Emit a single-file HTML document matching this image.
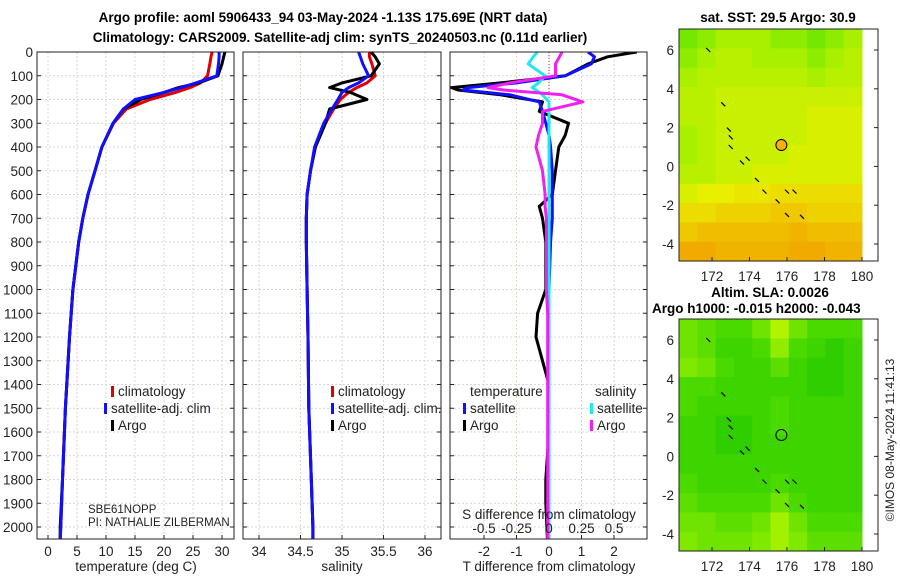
<!DOCTYPE html>
<html><head><meta charset="utf-8"><style>
body{margin:0;background:#fff}
svg{display:block;font-family:"Liberation Sans",sans-serif}
</style></head><body>
<svg id="c" width="900" height="580" xmlns="http://www.w3.org/2000/svg">
<text x="323" y="22" text-anchor="middle" font-size="13.5" font-weight="bold">Argo profile: aoml 5906433_94 03-May-2024 -1.13S 175.69E (NRT data)</text>
<text x="340" y="42" text-anchor="middle" font-size="13.5" font-weight="bold">Climatology: CARS2009. Satellite-adj clim: synTS_20240503.nc (0.11d earlier)</text>
<text x="778" y="22" text-anchor="middle" font-size="13.5" font-weight="bold">sat. SST: 29.5 Argo: 30.9</text>
<text x="770" y="297" text-anchor="middle" font-size="13.5" font-weight="bold">Altim. SLA: 0.0026</text>
<text x="652" y="313" font-size="13.5" font-weight="bold">Argo h1000: -0.015 h2000: -0.043</text>
<text transform="translate(894,440) rotate(-90)" text-anchor="middle" font-size="12" fill="#222">©IMOS 08-May-2024 11:41:13</text>
<g id="g"></g>
</svg>
<script>
// ---- profile data ----
const depths = [0,20,50,100,130,150,170,200,240,300,400,500,600,700,800,1000,1200,1500,1800,2000,2050];
const tempArgo = [30.5,30.3,30.0,29.3,26,22.5,20,16,13,11.2,9.3,8.1,6.9,6.0,5.3,4.3,3.7,3.0,2.5,2.1,2.1];
const tempClim = [28.3,28.1,27.9,27.5,26.3,24.5,22,17.6,13.5,11.3,9.3,8.1,6.9,6.0,5.3,4.3,3.7,3.0,2.5,2.2,2.1];
const tempSat  = [29.5,29.5,29.4,29.1,25.5,23,20,15,13,11.2,9.3,8.1,6.9,6.0,5.3,4.3,3.7,3.0,2.5,2.2,2.1];
const salArgo = [35.35,35.4,35.45,35.35,35.0,34.85,35.1,35.3,34.85,34.8,34.68,34.62,34.58,34.57,34.57,34.58,34.59,34.6,34.63,34.65,34.65];
const salClim = [35.33,35.33,35.36,35.4,35.3,35.18,35.08,34.98,34.9,34.8,34.68,34.62,34.58,34.57,34.57,34.58,34.59,34.6,34.63,34.65,34.65];
const salSat  = [35.2,35.22,35.25,35.32,35.2,35.08,35.0,34.95,34.88,34.78,34.67,34.62,34.58,34.57,34.57,34.58,34.59,34.6,34.63,34.65,34.65];
const diffDepths = [0,20,50,100,130,150,160,180,210,250,300,350,400,500,600,650,700,800,1000,1100,1200,1300,1400,1600,1800,1900,2050];
const tDiffArgo = [2.7,1.8,1.2,0.5,-1.5,-3.0,-2.8,-1.5,-0.2,-0.3,0.6,0.5,0.3,0.2,0.1,-0.3,-0.2,-0.1,-0.1,-0.35,-0.4,-0.2,0.0,0.0,-0.1,-0.1,-0.05];
const tDiffSat  = [1.2,1.4,1.3,0.5,-1.0,-2.5,-2.65,-1.2,-0.3,-0.2,-0.1,0.0,0.05,0.1,0.1,0.1,0.1,0.05,0.0,0.0,0.0,0.0,0.0,0.0,0.0,0.0,0.0];
const sDiffArgo = [0.1,0.08,0.05,0.05,-0.3,-0.47,-0.35,0.1,0.26,-0.05,-0.05,-0.08,-0.1,-0.05,-0.03,-0.03,-0.02,-0.02,-0.02,-0.01,-0.01,-0.01,-0.01,-0.01,-0.01,-0.01,-0.01];
const sDiffSat  = [-0.09,-0.12,-0.16,-0.03,-0.08,-0.13,-0.1,-0.05,0.0,0.0,0.0,0.0,0.0,0.0,0.0,0.0,0.0,0.0,0.0,0.0,0.0,0.0,0.0,0.0,0.0,0.0,0.0];
const depthTicks = [0,100,200,300,400,500,600,700,800,900,1000,1100,1200,1300,1400,1500,1600,1700,1800,1900,2000];
const tempTicks = [0,5,10,15,20,25,30];
const salTicks = [34,34.5,35,35.5,36];
const salTickLabels = ["34","34.5","35","35.5","36"];
const tDiffTicks = [-2,-1,0,1,2];
const sDiffTicks = [-0.5,-0.25,0,0.25,0.5];
const sDiffTickLabels = ["-0.5","-0.25","0","0.25","0.5"];
// ---- map data ----
const lonTicks = [172,174,176,178,180];
const latTicks = [6,4,2,0,-2,-4];
const argoLon = 175.7, argoLat = 1.1;
const sstGrid = [
[29.2,29.3,29.4,29.4,29.4,29.3,29.3,29.2,29.3,29.4],
[29.3,29.4,29.5,29.5,29.4,29.4,29.4,29.3,29.4,29.5],
[29.4,29.5,29.5,29.5,29.5,29.5,29.5,29.4,29.5,29.5],
[29.5,29.5,29.6,29.6,29.6,29.6,29.6,29.6,29.6,29.6],
[29.5,29.5,29.6,29.6,29.6,29.6,29.6,29.7,29.7,29.7],
[29.4,29.5,29.6,29.6,29.6,29.6,29.6,29.7,29.7,29.7],
[29.4,29.5,29.6,29.6,29.6,29.6,29.7,29.7,29.7,29.7],
[29.5,29.5,29.6,29.6,29.7,29.7,29.7,29.7,29.7,29.7],
[29.7,29.8,29.8,29.9,29.9,30.0,30.0,30.0,30.0,30.0],
[30.0,30.0,30.1,30.1,30.1,30.2,30.2,30.1,30.1,30.1],
[30.2,30.3,30.3,30.3,30.3,30.3,30.4,30.3,30.3,30.3],
[30.5,30.5,30.4,30.4,30.4,30.4,30.5,30.5,30.4,30.4]];
const slaGrid = [
[.5,.4,.3,.3,.5,.9,.5,.3,.3,.3],
[.5,.4,.2,.2,.3,.7,.3,.2,.1,.2],
[.6,.5,.3,.2,.2,.4,.2,.1,.1,.2],
[.3,.3,.2,.2,.2,.2,.2,.1,.1,.2],
[.3,.2,.2,.2,.2,.3,.2,.2,.2,.2],
[.2,.2,.1,.1,.2,.3,.2,.2,.2,.2],
[.2,.2,.1,.1,.2,.2,.2,.2,.2,.2],
[.2,.2,.2,.2,.2,.2,.2,.2,.2,.2],
[.3,.2,.2,.2,.2,.3,.2,.2,.2,.2],
[.4,.3,.3,.3,.3,.5,.3,.2,.2,.2],
[.5,.5,.4,.4,.5,.8,.5,.3,.3,.3],
[.6,.5,.5,.5,.6,.8,.6,.4,.4,.4]];
const coastLon = [172.6,172.9,173.0,173.0,173.6,173.9,174.4,174.8,175.5,176.0,176.4,176.0,176.8,171.8];
const coastLat = [3.2,1.9,1.5,1.0,0.2,0.4,-0.7,-1.3,-1.8,-1.3,-1.3,-2.5,-2.6,6.0];

const NS="http://www.w3.org/2000/svg";
const G=document.getElementById('g');
function el(t,a,p){const e=document.createElementNS(NS,t);for(const k in a)e.setAttribute(k,a[k]);(p||G).appendChild(e);return e;}
function txt(x,y,s,a,p){const e=el('text',Object.assign({x:x,y:y,'font-size':13.5,fill:'#222'},a||{}),p);e.textContent=s;return e;}

const yD = d => 52 + d*0.2375;
const PY0=52, PY1=539;
const TICKY=556, TITLEY=571;
const xT = v => 48 + v*5.8;
const xS = v => 259 + (v-34)*83;
const xTd = v => 549 + v*32.5;
const xSd = v => 549 + v*130;

function panel(name,x0,x1){
  const g=el('g',{});
  
  
  for(const d of depthTicks){
    const l=el('line',{x1:x0,x2:x1,y1:yD(d),y2:yD(d),stroke:'#c8c8e0','stroke-width':0.8,'stroke-dasharray':'2,2'},g);
    
    
    const t1=el('line',{x1:x0,x2:x0+4,y1:yD(d),y2:yD(d),stroke:'#222'},g);
    
    
    const t2=el('line',{x1:x1-4,x2:x1,y1:yD(d),y2:yD(d),stroke:'#222'},g);
    
    
  }
  return g;
}
function vgrid(g,xs,fn){
  for(const v of xs){
    const l=el('line',{x1:fn(v),x2:fn(v),y1:PY0,y2:PY1,stroke:'#e0c8b0','stroke-width':0.8,'stroke-dasharray':'2,2'},g);
    
    
    const t=el('line',{x1:fn(v),x2:fn(v),y1:PY1,y2:PY1-4,stroke:'#222'},g);
    
    
  }
}
function frame(g,x0,x1){
  const r=el('rect',{x:x0,y:PY0,width:x1-x0,height:PY1-PY0,fill:'none',stroke:'#222','stroke-width':1},g);
  
  
}
function line(g,xs,ds,fx,color,name,w){
  const pts=xs.map((v,i)=>fx(v).toFixed(1)+','+yD(ds[i]).toFixed(1)).join(' ');
  const p=el('polyline',{points:pts,fill:'none',stroke:color,'stroke-width':w||3,'stroke-linejoin':'round'},g);
  
  
}
function legendEntry(g,x,y,color,label,name){
  const m=el('rect',{x:x,y:y-10,width:3,height:11,fill:color},g);
  
  
  const t=txt(x+7,y,label,{},g);
  
  
}

// Panel 1: temperature
const p1=panel('temperature-panel',37,234);
vgrid(p1,tempTicks,xT);
line(p1,tempClim,depths,xT,'#e00000','temperature-climatology-line');
line(p1,tempArgo,depths,xT,'#000','temperature-argo-line');
line(p1,tempSat,depths,xT,'#1010ff','temperature-satellite-line');
frame(p1,37,234);
for(const d of depthTicks){const t=txt(33,yD(d)+5,String(d),{'text-anchor':'end'},p1);}
for(const v of tempTicks){const t=txt(xT(v),TICKY,String(v),{'text-anchor':'middle'},p1);}
{const t=txt(136,TITLEY,'temperature (deg C)',{'text-anchor':'middle'},p1);}
legendEntry(p1,111,396,'#e00000','climatology','legend-climatology');
legendEntry(p1,104,413,'#1010ff','satellite-adj. clim','legend-satellite');
legendEntry(p1,111,430,'#000','Argo','legend-argo');
{const t=txt(88,513,'SBE61NOPP',{'font-size':11.5},p1);}
{const t=txt(88,526,'PI: NATHALIE ZILBERMAN',{'font-size':11.5},p1);}

// Panel 2: salinity
const p2=panel('salinity-panel',243,441);
vgrid(p2,salTicks,xS);
line(p2,salClim,depths,xS,'#e00000','salinity-climatology-line');
line(p2,salArgo,depths,xS,'#000','salinity-argo-line');
line(p2,salSat,depths,xS,'#1010ff','salinity-satellite-line');
frame(p2,243,441);
salTicks.forEach((v,i)=>{const t=txt(xS(v),TICKY,salTickLabels[i],{'text-anchor':'middle'},p2);});
{const t=txt(342,TITLEY,'salinity',{'text-anchor':'middle'},p2);}
legendEntry(p2,331,396,'#e00000','climatology','legend-climatology');
legendEntry(p2,331,413,'#1010ff','satellite-adj. clim.','legend-satellite');
legendEntry(p2,331,430,'#000','Argo','legend-argo');

// Panel 3: differences
const p3=panel('difference-panel',450,647);
vgrid(p3,tDiffTicks,xTd);
{const z=el('line',{x1:549,x2:549,y1:PY0,y2:PY1,stroke:'#555','stroke-width':1,'stroke-dasharray':'1,2'},p3);}
const clip=el('clipPath',{id:'cp3'},p3);el('rect',{x:450,y:PY0,width:197,height:PY1-PY0},clip);
const p3c=el('g',{'clip-path':'url(#cp3)'},p3);


line(p3c,tDiffArgo,diffDepths,xTd,'#000','t-diff-argo-line');
line(p3c,tDiffSat,diffDepths,xTd,'#1010ff','t-diff-satellite-line');
line(p3c,sDiffSat,diffDepths,xSd,'#20e8f0','s-diff-satellite-line');
line(p3c,sDiffArgo,diffDepths,xSd,'#f020f0','s-diff-argo-line');
frame(p3,450,647);
for(const v of tDiffTicks){const t=txt(xTd(v),TICKY,String(v),{'text-anchor':'middle'},p3);}
sDiffTicks.forEach((v,i)=>{const t=txt(xSd(v),533,sDiffTickLabels[i],{'text-anchor':'middle'},p3);});
{const t=txt(549,519,'S difference from climatology',{'text-anchor':'middle'},p3);}
{const t=txt(549,TITLEY,'T difference from climatology',{'text-anchor':'middle'},p3);}
{const t=txt(470,396,'temperature',{},p3);}
{const t=txt(595,396,'salinity',{},p3);}
legendEntry(p3,463,413,'#1010ff','satellite','legend-t-satellite');
legendEntry(p3,463,430,'#000','Argo','legend-t-argo');
legendEntry(p3,590,413,'#20e8f0','satellite','legend-s-satellite');
legendEntry(p3,590,430,'#f020f0','Argo','legend-s-argo');

// ---- maps ----
function lerpC(stops,t){
  t=Math.max(0,Math.min(1,t));
  const n=stops.length-1, i=Math.min(n-1,Math.floor(t*n)), f=t*n-i;
  const a=stops[i], b=stops[i+1];
  return 'rgb('+a.map((c,k)=>Math.round(c+(b[k]-c)*f)).join(',')+')';
}
const sstStops=[[64,224,0],[168,240,0],[232,240,0],[240,200,0],[240,160,0]];
const slaStops=[[32,200,0],[80,220,0],[140,236,0],[192,248,0]];
const LON0=170.24, LON1=180, LAT0=7.08, LAT1=-4.88;
function map(name,top,grid,colFn,dot){
  const ylat = v => top+21 + (6-v)*19.4;
  const xlon = v => 712 + (v-172)*18.75;
  const g=el('g',{});
  
  
  const rows=grid.length, cols=grid[0].length;
  const dLon=(LON1-LON0)/cols, dLat=(LAT0-LAT1)/rows;
  grid.forEach((row,r)=>row.forEach((v,c)=>{
    const x0=xlon(LON0+c*dLon), x1=xlon(LON0+(c+1)*dLon);
    const y0=ylat(LAT0-r*dLat), y1=ylat(LAT0-(r+1)*dLat);
    const cell=el('rect',{x:x0,y:y0,width:x1-x0+0.5,height:y1-y0+0.5,fill:colFn(v)},g);
    
    
  }));
  coastLon.forEach((lo,i)=>{
    const s=el('line',{x1:xlon(lo)-2,y1:ylat(coastLat[i])-2,x2:xlon(lo)+2,y2:ylat(coastLat[i])+2,stroke:'#000','stroke-width':1.2},g);
    
    
  });
  const m=el('circle',{cx:xlon(argoLon),cy:ylat(argoLat),r:5.5,fill:dot,stroke:'#000','stroke-width':1},g);
  
  
  const fr=el('rect',{x:679,y:top,width:199,height:232,fill:'none',stroke:'#222'},g);
  
  
  for(const v of lonTicks){
    const t=el('line',{x1:xlon(v),x2:xlon(v),y1:top+232,y2:top+228,stroke:'#222'},g);
    
    
    const l=txt(xlon(v),top+252,String(v),{'text-anchor':'middle'},g);
    
    
  }
  for(const v of latTicks){
    const t=el('line',{x1:874,x2:878,y1:ylat(v),y2:ylat(v),stroke:'#222'},g);
    
    
    const l=txt(674,ylat(v)+5,String(v),{'text-anchor':'end'},g);
    
    
  }
}
map('sst-map',29,sstGrid,v=>lerpC(sstStops,(v-29.0)/1.6),'#f8b000');
map('sla-map',319,slaGrid,v=>lerpC(slaStops,v),'none');
</script>
</body></html>
